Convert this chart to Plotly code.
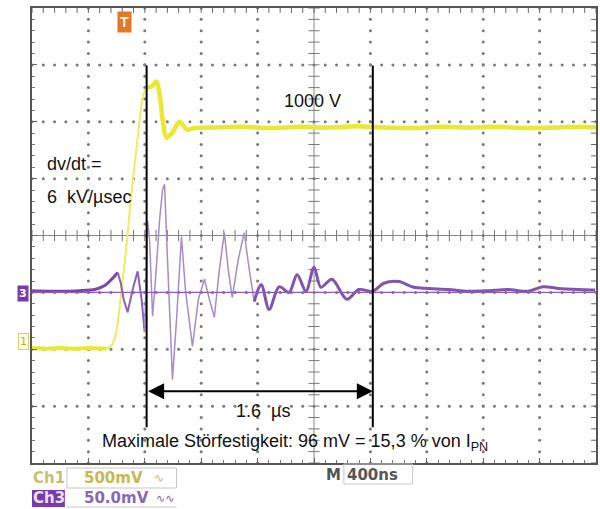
import numpy as np
import plotly.graph_objects as go

# ---------------- data (time in µs, 400 ns/div; amplitude in divisions) ----------------
ch1_pre_t = [0.0, 0.10, 0.20, 0.30, 0.40, 0.50, 0.530]
ch1_pre_v = [-1.98, -1.99, -1.98, -1.99, -1.98, -1.99, -1.99]

ch1_edge_t = [0.530, 0.565, 0.594, 0.615, 0.643, 0.671, 0.700, 0.728, 0.756, 0.784, 0.813]
ch1_edge_v = [-1.99, -1.93, -1.74, -1.39, -0.77, -0.16, 0.63, 1.25, 1.86, 2.43, 2.60]

ch1_post_t = [0.813, 0.848, 0.883, 0.905, 0.926, 0.954, 0.996, 1.046, 1.102, 1.152,
              1.30, 1.50, 1.70, 1.90, 2.10, 2.30, 2.50, 2.70, 2.90, 3.10, 3.30, 3.50, 3.70, 3.90, 4.0]
ch1_post_v = [2.60, 2.62, 2.71, 2.48, 2.04, 1.72, 1.81, 2.00, 1.86, 1.89,
              1.90, 1.91, 1.89, 1.91, 1.90, 1.92, 1.90, 1.89, 1.91, 1.90, 1.91, 1.89, 1.90, 1.91, 1.90]

ch3_pre_t = [0.0, 0.198, 0.339, 0.445, 0.516, 0.565, 0.608]
ch3_pre_v = [-0.97, -0.98, -0.97, -0.95, -0.88, -0.77, -0.65]

ch3_mid_t = [0.608, 0.629, 0.650, 0.678, 0.714, 0.749, 0.777, 0.799]
ch3_mid_v = [-0.65, -0.83, -1.12, -1.35, -0.95, -0.63, -1.12, -1.70]

ch3_burst_t = [0.799, 0.820, 0.834, 0.855, 0.876, 0.905, 0.926, 0.940, 0.961, 0.996, 1.025,
               1.060, 1.088, 1.138, 1.180, 1.223, 1.258, 1.293, 1.329, 1.364, 1.392,
               1.420, 1.463, 1.505, 1.541, 1.576]
ch3_burst_v = [-1.70, 0.25, -0.07, -1.42, -0.77, 0.28, 0.81, 0.90, -0.42, -2.53, -1.48,
               -0.02, -0.95, -1.95, -1.12, -0.77, -1.12, -1.44, -0.60, 0.05, -0.60,
               -1.09, -0.42, 0.05, -0.60, -1.16]

ch3_post_t = [1.576, 1.625, 1.682, 1.753, 1.823, 1.880, 1.943, 2.000, 2.049, 2.127, 2.233,
              2.318, 2.417, 2.495, 2.601, 2.707, 2.813, 2.954, 3.095, 3.237, 3.378, 3.519,
              3.625, 3.731, 3.873, 3.993]
ch3_post_v = [-1.16, -0.86, -1.30, -0.90, -1.00, -0.69, -0.98, -0.56, -0.91, -0.77, -1.12,
              -0.95, -0.98, -0.84, -0.81, -0.91, -0.93, -0.95, -0.98, -0.97, -0.95, -0.98,
              -0.90, -0.93, -0.95, -0.96]

cursor_t = [0.813, 2.417]
cursor_v = [-3.37, 2.99]
arrow_v = -2.74
ch3_ground = -1.0

X_RANGE = [0.0, 4.0]
Y_RANGE = [-4.0, 4.0]
X_DIV = 0.4
Y_DIV = 1.0

FONT = "Liberation Sans, Arial, sans-serif"
MONO = "DejaVu Sans, sans-serif"

fig = go.Figure()

# ---------------- graticule (decoration) ----------------
cx = (X_RANGE[0] + X_RANGE[1]) / 2
hx = np.arange(X_RANGE[0], X_RANGE[1] + 1e-9, X_DIV / 5)
vy = np.arange(Y_RANGE[0], Y_RANGE[1] + 1e-9, Y_DIV / 5)
gx_lines = np.arange(X_RANGE[0] + X_DIV, X_RANGE[1] - 1e-9, X_DIV)
gy_lines = np.arange(Y_RANGE[0] + Y_DIV, Y_RANGE[1] - 1e-9, Y_DIV)
dots_x, dots_y = [], []
for gx in gx_lines:
    if abs(gx - cx) < 1e-6:
        continue
    dots_x += [float(gx)] * len(vy)
    dots_y += [float(v) for v in vy]
for gy in gy_lines:
    if abs(gy) < 1e-6:
        continue
    dots_x += [float(h) for h in hx]
    dots_y += [float(gy)] * len(hx)
fig.add_trace(go.Scatter(x=dots_x, y=dots_y, mode="markers",
                         marker=dict(symbol="circle", size=3, color="#7a7a7a", line=dict(width=0)),
                         hoverinfo="skip", showlegend=False))

fig.add_trace(go.Scatter(x=hx, y=np.zeros_like(hx), mode="markers",
                         marker=dict(symbol="line-ns", size=8, line=dict(width=1, color="#777")),
                         hoverinfo="skip", showlegend=False))
fig.add_trace(go.Scatter(x=np.full_like(vy, cx), y=vy, mode="markers",
                         marker=dict(symbol="line-ew", size=8, line=dict(width=1, color="#777")),
                         hoverinfo="skip", showlegend=False))
fig.add_trace(go.Scatter(x=hx, y=np.full_like(hx, Y_RANGE[1]), mode="markers",
                         marker=dict(symbol="line-ns", size=7, line=dict(width=1, color="#666")),
                         hoverinfo="skip", showlegend=False))
fig.add_trace(go.Scatter(x=np.full_like(vy, X_RANGE[1]), y=vy, mode="markers",
                         marker=dict(symbol="line-ew", size=7, line=dict(width=1, color="#666")),
                         hoverinfo="skip", showlegend=False))

# channel 3 ground reference line
fig.add_shape(type="line", x0=X_RANGE[0], x1=X_RANGE[1], y0=ch3_ground, y1=ch3_ground,
              line=dict(color="#8a5cc0", width=1.2), layer="above")

# channel 1 (yellow)
fig.add_trace(go.Scatter(x=ch1_pre_t, y=ch1_pre_v, mode="lines",
                         line=dict(color="#ece830", width=4), showlegend=False))
fig.add_trace(go.Scatter(x=ch1_edge_t, y=ch1_edge_v, mode="lines",
                         line=dict(color="#efec60", width=2, shape="spline", smoothing=0.6),
                         showlegend=False))
fig.add_trace(go.Scatter(x=ch1_post_t, y=ch1_post_v, mode="lines",
                         line=dict(color="#ece830", width=4.5, shape="spline", smoothing=0.8),
                         showlegend=False))

# channel 3 (purple)
fig.add_trace(go.Scatter(x=ch3_pre_t, y=ch3_pre_v, mode="lines",
                         line=dict(color="#7a44aa", width=3, shape="spline", smoothing=0.6),
                         showlegend=False))
fig.add_trace(go.Scatter(x=ch3_mid_t, y=ch3_mid_v, mode="lines",
                         line=dict(color="#8a62b8", width=2), showlegend=False))
fig.add_trace(go.Scatter(x=ch3_burst_t, y=ch3_burst_v, mode="lines",
                         line=dict(color="#a58ccc", width=1.5), showlegend=False))
fig.add_trace(go.Scatter(x=ch3_post_t, y=ch3_post_v, mode="lines",
                         line=dict(color="#8055b0", width=3, shape="spline", smoothing=0.9),
                         showlegend=False))

# cursors
for t in cursor_t:
    fig.add_shape(type="line", x0=t, x1=t, y0=cursor_v[0], y1=cursor_v[1],
                  line=dict(color="#000", width=2), layer="above")

# double arrow
fig.add_annotation(x=cursor_t[1], y=arrow_v, ax=cursor_t[0], ay=arrow_v,
                   xref="x", yref="y", axref="x", ayref="y", text="",
                   showarrow=True, arrowhead=2, startarrowhead=2, arrowside="end+start",
                   arrowsize=1.6, startarrowsize=1.6, arrowwidth=2, arrowcolor="#000")

def txt(x, y, s, size=18, anchor="left"):
    fig.add_annotation(x=x, y=y, xref="x", yref="y", text=s, showarrow=False,
                       xanchor=anchor, yanchor="middle",
                       font=dict(family=FONT, size=size, color="#111"))

txt(1.774, 2.36, "1000 V")
txt(0.092, 1.25, "dv/dt =")
txt(0.092, 0.67, "6\u00a0\u00a0kV/µsec")
txt(1.435, -3.09, "1.6\u00a0\u00a0µs")
txt(0.481, -3.64, "Maximale Störfestigkeit: 96 mV = 15,3 % von I<sub>PN</sub>")

# trigger position marker
fig.add_annotation(x=0.657, y=0.993, xref="x", yref="paper", yanchor="top", text="<b>T</b>",
                   showarrow=False, font=dict(family=FONT, size=14, color="#fff3e0"),
                   bgcolor="#e07a28", borderpad=2)

# channel ground markers
fig.add_annotation(x=-0.005, y=(463 - 293) / 455, xref="paper", yref="paper", xanchor="right",
                   text="<b>3</b>", showarrow=False, font=dict(family=MONO, size=11, color="#fff"),
                   bgcolor="#7a3aa8", borderpad=1)
fig.add_annotation(x=-0.005, y=(463 - 350) / 455, xref="paper", yref="paper", xanchor="right",
                   text="1", showarrow=False, font=dict(family=MONO, size=11, color="#b8b040"),
                   bgcolor="#fdfbe0", bordercolor="#d8d070", borderwidth=1, borderpad=1)

# bottom status labels
def px(xp):
    return (xp - 32) / 566
def py(yp):
    return (463 - yp) / 455

fig.add_shape(type="rect", xref="paper", yref="paper", x0=px(67), x1=px(177), y0=py(488), y1=py(468),
              line=dict(color="#c8c8c8", width=1))
fig.add_shape(type="rect", xref="paper", yref="paper", x0=px(32), x1=px(65), y0=py(507), y1=py(490),
              line=dict(width=0), fillcolor="#7a3aa8")
fig.add_shape(type="line", xref="paper", yref="paper", x0=px(67), x1=px(177), y0=py(507), y1=py(507),
              line=dict(color="#c8c8c8", width=1))
fig.add_shape(type="rect", xref="paper", yref="paper", x0=px(345), x1=px(414), y0=py(484), y1=py(464),
              line=dict(color="#c8c8c8", width=1))

def lab(x, y, s, color, size=15):
    fig.add_annotation(x=px(x), y=py(y), xref="paper", yref="paper", xanchor="left", yanchor="middle",
                       text=s, showarrow=False, font=dict(family=MONO, size=size, color=color))

lab(31, 478, "<b>Ch1</b>", "#c8c070")
lab(82, 478, "<b>500mV</b>", "#c8b850")
lab(152, 478, "∿", "#c8c070", 12)
lab(31, 498, "<b>Ch3</b>", "#e8e0f8")
lab(82, 498, "<b>50.0mV</b>", "#8a66b8")
lab(154, 498, "∿∿", "#8a66b8", 11)
lab(325, 475, "<b>M</b>", "#555")
lab(346, 475, "<b>400ns</b>", "#555")

axis_common = dict(showticklabels=False, showline=True, mirror=True, linecolor="#555",
                   linewidth=2, ticks="inside", ticklen=5, tickcolor="#666",
                   showgrid=False, zeroline=False, fixedrange=True)

fig.update_xaxes(range=X_RANGE, dtick=X_DIV, tick0=0,
                 minor=dict(dtick=X_DIV / 5, ticks="inside", ticklen=3, tickcolor="#777", showgrid=False),
                 **axis_common)
fig.update_yaxes(range=Y_RANGE, dtick=Y_DIV, tick0=0,
                 minor=dict(dtick=Y_DIV / 5, ticks="inside", ticklen=3, tickcolor="#777", showgrid=False),
                 **axis_common)

# center axis lines
fig.add_shape(type="line", x0=cx, x1=cx, y0=Y_RANGE[0], y1=Y_RANGE[1], line=dict(color="#888", width=1), layer="below")
fig.add_shape(type="line", x0=X_RANGE[0], x1=X_RANGE[1], y0=0, y1=0, line=dict(color="#888", width=1), layer="below")

fig.update_layout(width=600, height=509, margin=dict(l=32, r=2, t=8, b=46),
                  paper_bgcolor="#fff", plot_bgcolor="#fff", showlegend=False, hovermode=False)

fig.write_html("out.html", config={"displayModeBar": False})
